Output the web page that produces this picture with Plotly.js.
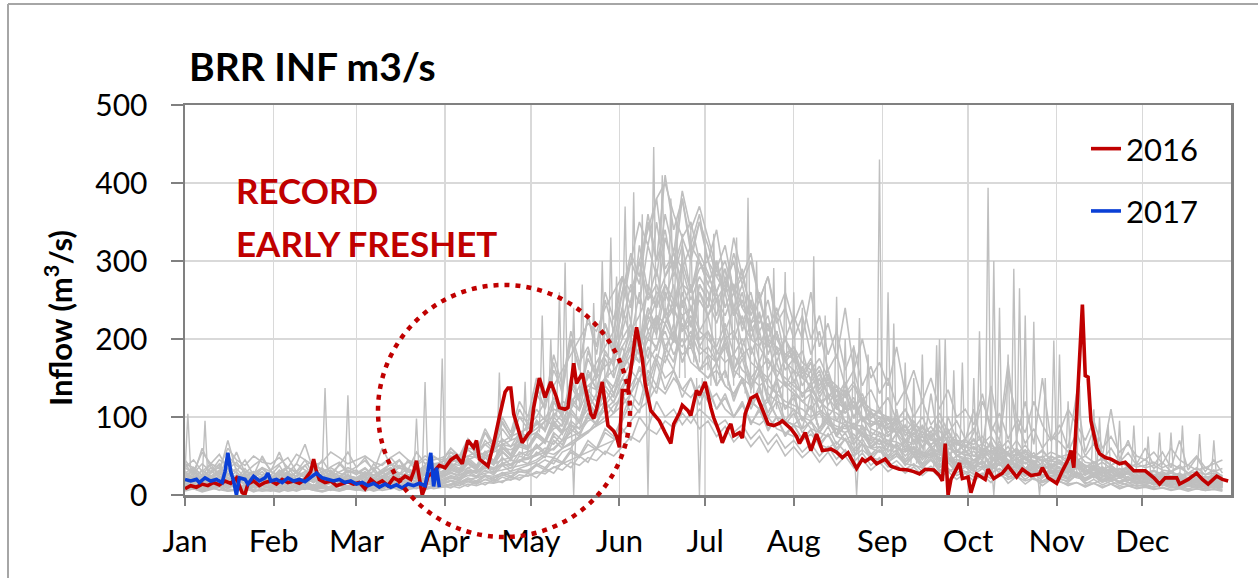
<!DOCTYPE html>
<html>
<head>
<meta charset="utf-8">
<script src="https://cdn.plot.ly/plotly-3.0.1.min.js"></script>
<style>
html,body{margin:0;padding:0;background:#ffffff;}
#chart{width:1258px;height:578px;}
</style>
</head>
<body>
<div id="chart"></div>
<script>
// ---------- DATA ----------
const MONTHS = ['Jan','Feb','Mar','Apr','May','Jun','Jul','Aug','Sep','Oct','Nov','Dec'];
const Y_TICKS = [0, 100, 200, 300, 400, 500];

// 2016 inflow: day of year (0 = Jan 1) and value (m3/s)
const DAYS_2016 = [
  0,2,4,6,8,10,12,14,16,18,
  19,20,21,22,24,26,28,30,32,34,
  36,38,40,42,44,45,46,47,49,51,
  53,55,57,59,61,63,65,67,69,71,
  73,75,77,79,80,81,82,83,84,85,
  87,89,91,93,95,97,99,101,102,103,
  106,108,110,112,113,114,115,117,118,120,
  121,122,124,126,128,130,131,133,134,136,
  137,139,141,142,143,144,146,148,150,151,
  152,153,155,156,158,160,161,163,165,166,
  168,170,171,173,174,176,177,179,180,182,
  184,185,187,188,190,191,192,194,195,196,
  198,200,202,204,206,208,209,211,212,214,
  215,217,219,221,223,225,226,228,230,232,
  235,237,238,240,242,245,247,250,253,255,
  257,259,262,264,265,266,267,268,269,271,
  272,274,275,277,280,281,283,286,288,291,
  293,296,299,300,302,305,307,309,310,311,
  314,315,316,317,319,320,322,324,327,329,
  332,336,339,341,343,347,348,351,354,356,
  358,361,363,365
];
const FLOW_2016 = [
  8,12,10,14,12,16,13,18,15,22,
  12,3,1,14,18,12,16,18,14,20,
  16,18,15,20,30,46,30,20,16,18,
  12,15,17,14,16,8,20,14,18,12,
  22,18,24,20,30,44,20,0,10,24,
  30,38,35,45,50,40,70,61,70,46,
  37,66,100,132,137,137,104,80,67,78,
  82,112,150,125,145,125,112,110,112,169,
  143,156,120,104,98,110,145,89,82,75,
  61,134,134,160,215,175,143,108,100,95,
  80,66,91,105,115,108,102,134,128,145,
  112,99,80,67,85,91,76,80,73,104,
  124,128,110,91,89,92,95,88,85,75,
  66,80,57,78,57,58,59,55,48,54,
  34,46,43,48,40,46,37,33,32,30,
  27,33,32,25,18,66,0,20,27,41,
  21,23,3,27,20,33,21,28,37,23,
  33,25,27,35,22,15,31,45,57,35,
  244,153,151,95,61,53,48,46,40,42,
  31,31,22,14,22,22,14,20,28,20,
  14,24,20,18
];

// 2017 inflow (to date)
const DAYS_2017 = [0,2,4,5,7,9,11,13,14,15,16,17,18,19,21,22,24,26,28,29,30,32,34,36,38,40,42,44,46,48,50,52,54,56,58,60,62,64,66,68,70,72,74,76,78,80,82,84,85,86,87,88,89];
const FLOW_2017 = [20,18,20,16,22,18,20,16,30,54,30,18,0,22,20,14,24,18,22,28,18,20,16,22,18,20,17,22,28,22,20,18,20,16,18,14,16,12,15,10,14,10,13,9,14,12,15,12,30,54,11,35,10];

// historical years (grey), one value every 3 days from Jan 1
const HIST_STEP = 3;
const hist01 = [30,22,18,25,15,12,20,14,10,12, 15,10,12,18,14,10,8,12,15,10, 12,18,14,10,16,20,15,12,18,22, 20,25,22,30,28,35,32,40,45,42, 55,60,70,85,90,110,130,150,170,190,210, 260,300,350,320,380,290,310,270,240,260, 230,250,200,210,180,190,160,150,170,140, 130,120,110,125,100,95,90,85,80,75, 70,65,60,58,55,50,52,48,45,40, 42,38,35,40,55,45,38,35,32,30,28, 30,28,35,32,28,25,22,24,20,18, 20,18,16,18,15,14,16,13,12,14];
const hist02 = [15,10,8,12,10,14,9,7,10,12, 8,10,12,9,7,11,10,8,12,9, 10,8,12,11,9,14,12,10,13,15, 12,14,16,18,15,20,22,25,28,30, 32,38,45,40,55,60,75,80,95,110,120, 140,160,190,220,250,280,310,290,320,300, 270,250,230,260,220,200,190,170,160,150, 140,130,135,120,110,105,95,90,88,80, 75,70,68,62,60,55,50,52,45,42, 40,38,36,35,32,30,34,30,28,26,25, 24,26,22,20,25,22,20,18,20,17, 16,15,18,14,13,15,12,14,13,12];
const hist03 = [40,35,25,30,45,38,28,22,30,25, 20,28,35,30,25,40,32,25,22,30, 28,35,25,22,30,38,32,28,35,30, 35,40,38,45,50,48,55,60,58,65, 75,80,95,100,120,115,140,130,160,180,170, 200,220,190,240,210,230,200,180,190,160, 150,170,140,130,145,120,110,125,100,95, 90,100,85,80,95,75,70,78,65,60, 62,58,55,70,50,48,60,45,42,50, 45,40,60,50,42,38,55,45,40,35,38, 40,35,45,38,32,36,30,34,28,30, 28,32,26,30,25,28,24,22,26,24];
const hist04 = [10,8,6,9,7,5,8,6,7,5, 6,8,5,7,9,6,5,7,6,8, 7,5,9,6,8,10,7,9,11,8, 10,12,9,14,12,16,15,18,20,22, 25,28,30,35,40,45,50,55,60,65,70, 80,95,110,120,140,130,150,135,125,140, 120,130,110,100,115,95,90,100,85,80, 75,70,78,65,60,68,55,50,58,48, 45,42,50,40,38,35,45,32,30,35, 30,28,25,40,28,24,22,30,20,18,22, 20,18,25,16,15,20,14,16,13,12, 12,10,14,11,9,12,10,8,11,9];
const hist05 = [20,15,25,18,12,16,22,14,18,20, 16,22,18,14,20,25,18,15,20,16, 18,22,15,20,25,18,22,30,25,20, 22,28,25,32,30,38,35,40,38,45, 48,52,60,58,70,75,80,95,100,115,130, 150,170,200,230,260,250,290,330,300,350, 320,280,300,260,280,240,220,250,200,180, 190,170,160,175,150,140,130,145,120,110, 105,100,95,110,90,85,80,95,75,70, 68,65,75,60,58,55,70,52,50,48,55, 50,45,55,42,40,48,38,45,35,40, 35,38,32,30,35,28,30,26,28,25];
const hist06 = [25,30,20,35,28,22,18,24,30,26, 30,25,35,28,22,20,26,24,30,35, 30,28,25,32,40,35,30,28,34,38, 40,35,45,50,48,55,60,65,70,75, 90,100,120,140,160,180,200,220,210,240,260, 280,260,300,250,270,230,240,210,220,190, 180,170,190,160,150,140,155,130,120,115, 110,100,95,105,90,85,80,88,75,70, 65,70,60,55,62,50,48,55,45,42, 40,45,38,35,50,42,36,34,30,32,28, 30,35,28,26,32,25,24,28,22,20, 22,20,24,18,20,17,19,16,18,15];
const hist07 = [35,28,40,30,25,50,38,30,28,35, 30,25,28,40,32,25,30,35,28,25, 22,28,25,30,35,28,24,26,30,28, 30,32,28,35,38,42,40,45,48,52, 55,60,70,65,80,90,85,100,110,120,140, 160,180,170,200,190,210,180,200,170,160, 150,160,140,130,150,120,110,120,100,95, 90,85,95,80,75,85,70,65,80,60, 55,60,80,65,50,90,60,55,100,70, 60,80,120,90,70,150,100,80,120,90,70, 80,110,90,70,95,60,75,55,65,50, 45,55,40,60,45,38,50,35,40,45];
const hist08 = [12,15,10,14,18,12,10,13,11,9, 10,12,14,11,9,13,12,10,15,11, 13,11,15,12,14,18,16,13,17,20, 18,22,20,25,24,28,30,32,35,38, 40,45,52,60,70,80,95,110,130,150,180, 210,250,300,340,380,400,360,330,350,300, 280,260,290,240,220,250,200,190,210,170, 160,150,140,155,130,120,110,125,100,95, 90,85,80,88,75,70,65,72,60,55, 52,50,48,55,45,42,40,48,38,36,35, 34,32,38,30,28,34,26,25,28,22, 22,20,24,18,20,17,18,16,19,15];
const hist09 = [8,12,6,10,14,8,6,9,12,7, 5,8,10,6,12,8,5,9,7,10, 8,6,10,12,8,14,10,8,12,16, 14,18,16,20,22,25,24,28,30,34, 38,42,50,48,60,65,72,80,90,100,115, 125,140,160,150,180,170,200,190,210,180, 190,170,200,160,180,150,165,140,130,145, 135,120,130,110,100,115,95,90,100,85, 80,75,85,70,65,75,60,55,65,50, 48,45,52,40,38,45,35,32,40,30,28, 26,30,24,22,28,20,18,22,16,15, 14,16,12,15,11,13,10,12,9,11];
const hist10 = [45,30,55,40,35,60,45,38,50,42, 40,48,35,52,45,38,42,55,48,40, 45,50,42,38,48,55,45,40,50,45, 48,55,50,60,58,65,70,68,75,80, 85,90,100,110,105,120,130,140,135,150,160, 175,190,210,200,230,220,240,210,230,200, 210,190,220,180,200,170,160,175,150,140, 145,130,140,120,125,110,105,115,95,90, 92,85,95,80,78,88,70,72,80,65, 62,70,58,55,65,52,60,48,50,56,45, 48,52,44,50,42,46,38,44,40,36, 38,42,35,40,34,38,32,35,30,34];
const hist11 = [18,22,16,20,24,18,15,20,22,17, 15,18,20,16,22,18,15,19,17,20, 18,16,20,22,18,24,20,18,22,26, 24,28,26,30,32,35,34,38,40,44, 46,50,55,52,60,68,75,82,88,95,105, 115,130,150,170,190,220,250,270,260,290, 300,280,260,270,240,220,230,200,190,180, 175,160,150,165,140,135,125,140,115,105, 100,95,90,98,85,80,75,82,70,65, 62,60,58,65,55,52,50,58,48,45,44, 42,40,46,38,36,42,34,32,36,30, 28,30,26,28,24,26,22,24,21,23];
const hist12 = [28,35,25,22,30,26,20,25,28,22, 25,20,28,24,30,26,22,28,25,20, 22,26,30,25,28,35,30,26,32,36, 38,42,45,50,55,52,60,65,62,70, 78,85,95,90,105,115,125,140,150,165,175, 190,210,230,260,240,270,250,230,240,210, 200,185,170,180,160,150,140,150,130,120, 115,110,100,108,95,88,85,92,78,72, 70,65,62,68,58,55,52,58,48,45, 44,42,40,48,38,36,35,42,32,30,30, 32,30,36,28,26,32,25,24,28,22, 22,24,20,22,18,20,17,19,16,18];
const hist13 = [22,35,18,28,40,20,15,30,25,18, 20,32,16,25,38,22,18,28,20,24, 18,26,35,20,30,45,25,32,28,40, 35,55,42,70,50,80,60,95,75,110, 90,140,110,170,130,200,160,230,180,250,210, 280,220,320,260,350,280,300,240,270,210, 230,180,210,160,190,140,170,120,150,110, 130,95,115,85,100,75,90,65,80,60, 70,50,65,45,60,40,55,38,50,35, 45,32,60,30,50,28,42,25,38,22,35, 30,20,45,25,35,18,30,22,28,16, 25,15,22,18,28,14,20,12,18,15];
const hist14 = [12,8,15,10,6,14,9,11,7,13, 9,12,7,10,14,8,11,6,12,9, 10,14,8,12,16,10,13,9,15,12, 14,18,12,20,16,24,18,26,22,30, 28,38,32,45,40,55,48,65,58,80,72, 95,120,105,150,130,180,160,220,190,260, 240,300,260,330,280,310,250,280,220,240, 200,230,180,210,160,180,140,160,120,135, 110,125,95,110,85,100,75,88,65,78, 60,72,55,66,50,62,45,56,42,50,38, 45,35,42,30,38,28,34,25,30,22, 26,20,24,18,22,16,20,15,18,14];
const hist15 = [30,18,25,40,22,30,55,28,20,35, 25,38,20,30,45,25,35,22,40,28, 32,22,40,28,35,25,45,30,38,50, 42,60,48,70,55,85,65,100,80,120, 100,150,120,180,140,210,170,190,150,220,180, 240,200,260,210,230,180,220,170,200,160, 180,140,160,120,150,110,135,100,120,90, 105,80,95,70,88,65,80,58,72,52, 62,48,58,42,55,38,50,35,48,32, 42,30,55,35,48,28,40,26,36,24,32, 28,40,24,35,22,30,20,28,18,25, 22,18,26,16,20,14,22,15,18,13];
const hist16 = [5,8,4,7,10,5,6,9,4,7, 6,4,8,5,9,6,4,7,5,8, 6,9,5,8,11,6,9,12,7,10, 12,9,15,11,18,13,20,16,24,19, 28,22,34,28,42,35,50,42,60,52,70, 85,70,100,85,120,100,110,90,105,85, 95,75,88,68,80,62,75,55,70,50, 62,48,58,42,55,38,50,35,46,32, 42,30,38,28,36,25,34,22,30,20, 28,18,26,16,30,15,24,14,22,12,20, 18,12,16,10,15,9,14,8,12,8, 10,7,9,6,8,5,8,6,7,5];
const hist17 = [18,25,14,20,28,16,22,12,18,24, 15,20,26,14,18,24,12,20,16,22, 14,20,16,24,18,28,22,16,26,20, 24,30,22,35,28,42,32,48,38,55, 50,65,55,80,70,95,85,120,100,140,125, 170,220,190,270,240,330,290,380,320,360, 300,340,270,300,240,260,210,230,180,200, 170,185,145,160,125,140,110,120,95,105, 90,100,78,88,68,76,60,68,52,58, 50,56,44,70,40,52,36,48,34,42,30, 36,28,45,26,38,24,32,22,28,20, 24,18,22,16,20,14,18,13,16,12];
const hist18 = [40,25,60,35,28,70,30,45,25,50, 30,55,28,40,65,30,45,28,38,55, 35,48,30,60,38,45,32,55,40,48, 45,60,50,72,58,80,66,92,75,100, 85,110,95,125,105,140,120,160,135,175,150, 190,160,210,175,230,190,210,170,200,160, 170,140,160,125,150,115,140,105,130,95, 110,85,130,80,100,75,120,70,90,65, 80,60,110,55,90,50,130,60,85,55, 70,110,60,140,80,170,75,120,65,150,70, 90,60,130,55,85,50,110,45,70,40, 60,38,55,35,70,32,48,30,45,28];
const hist19 = [10,16,8,12,20,9,14,7,11,15, 8,12,16,9,13,7,11,15,8,12, 10,14,9,16,12,18,11,15,20,13, 16,22,18,28,22,32,26,38,30,45, 40,55,48,70,60,85,75,100,90,120,105, 135,160,145,190,170,220,195,250,215,270, 250,220,260,200,230,180,210,160,190,140, 160,125,145,110,130,95,115,85,100,75, 88,65,78,58,70,50,64,45,56,40, 48,36,44,32,40,30,38,28,34,25,30, 26,22,30,20,25,18,22,16,20,14, 18,13,16,12,15,11,14,10,12,10];
const hist20 = [28,20,32,24,18,26,34,22,16,24, 20,26,18,30,22,16,28,20,24,18, 22,18,26,30,20,28,24,34,26,30, 30,38,32,45,36,52,44,60,50,68, 62,80,70,95,82,110,95,130,110,150,130, 160,190,170,210,185,240,200,260,220,250, 230,260,210,240,190,220,170,200,150,175, 145,165,130,150,115,135,105,120,95,108, 86,98,78,90,70,82,64,75,58,68, 55,62,50,58,46,54,42,50,40,46,36, 42,34,40,30,36,28,34,26,30,24, 28,22,26,20,24,18,22,16,20,15];
const hist21 = [14,20,12,18,24,13,17,21,12,16, 12,16,20,13,17,11,15,19,12,16, 14,18,13,20,16,22,17,25,19,28, 24,32,28,40,34,48,40,55,46,62, 58,75,66,90,78,105,92,120,105,135,118, 150,130,165,140,175,150,160,135,150,125, 135,110,125,100,118,92,108,85,100,78, 90,72,84,66,78,60,72,55,66,50, 58,46,54,42,50,38,46,35,42,32, 38,30,36,28,34,26,32,24,30,22,28, 24,20,28,18,24,16,22,15,20,14, 18,13,16,12,15,11,14,10,13,10];
const hist22 = [35,45,30,40,52,33,42,28,38,46, 32,40,48,30,38,44,28,36,42,30, 36,44,32,40,48,35,42,38,46,40, 42,50,45,58,50,65,56,72,62,80, 75,92,82,105,95,118,108,135,120,150,138, 175,210,190,240,215,270,240,300,260,310, 285,250,270,230,250,210,230,190,210,170, 185,150,170,135,155,120,140,110,125,100, 110,90,102,82,95,76,88,70,82,64, 72,58,66,54,62,50,58,46,54,42,50, 44,38,46,34,42,32,38,30,35,28, 32,26,30,24,28,22,26,20,24,19];
const hist23 = [6,9,5,8,11,6,7,10,5,8, 7,5,9,6,10,7,5,8,6,9, 7,10,6,9,12,8,10,14,9,12, 10,14,12,17,14,20,16,23,19,26, 24,30,27,36,32,42,38,48,44,56,50, 62,75,68,85,78,95,86,105,92,110, 100,88,96,80,90,72,84,65,78,60, 70,55,66,50,62,46,58,42,54,38, 48,36,44,33,40,30,37,28,34,25, 30,23,28,21,26,20,24,18,22,16,20, 17,14,16,12,15,11,14,10,12,9, 11,8,10,7,9,7,8,6,8,6];
const hist24 = [20,14,26,18,12,22,16,28,14,20, 16,22,14,24,18,12,20,26,15,19, 18,24,16,22,28,18,26,20,30,24, 26,34,28,40,32,48,38,56,44,66, 60,80,70,100,88,125,110,155,135,185,165, 220,270,245,320,280,360,310,390,340,370, 330,290,320,260,290,230,260,200,230,175, 190,155,175,140,160,125,145,110,130,98, 108,86,98,76,90,68,82,62,75,56, 64,50,60,46,70,42,54,40,50,36,44, 40,32,48,30,38,28,35,25,32,22, 28,20,25,18,23,16,21,15,19,14];
const hist25 = [16,24,12,20,30,14,18,26,12,20, 14,20,28,12,18,24,14,22,16,26, 18,26,14,22,30,18,24,16,28,22, 26,36,30,44,36,52,42,62,50,74, 70,95,82,120,100,150,125,185,150,220,190, 260,310,280,360,300,340,280,320,260,300, 270,300,240,270,210,250,190,220,170,200, 180,150,170,130,150,115,135,100,120,90, 100,80,92,70,85,62,78,56,70,50, 58,44,54,40,60,36,48,34,44,30,40, 36,28,42,26,34,24,30,22,28,20, 24,18,22,16,20,15,18,14,17,13];
const hist26 = [10,14,8,12,16,9,13,8,11,15, 9,13,8,12,15,9,12,8,14,10, 11,15,9,13,17,10,14,12,16,14, 15,19,16,22,18,26,21,29,24,33, 30,40,35,48,42,58,50,70,60,85,75, 100,130,115,160,140,190,170,230,200,270, 250,290,260,310,270,300,250,280,230,260, 220,250,200,230,180,210,160,190,140,165, 130,150,115,135,100,120,90,105,80,95, 72,85,65,76,58,70,52,64,48,58,44, 50,40,46,36,42,32,38,28,34,26, 30,24,28,22,26,20,24,18,22,17];
const hist27 = [24,32,20,28,36,22,30,18,26,34, 22,30,36,20,28,34,20,30,24,32, 26,34,22,30,40,26,34,28,38,32, 36,48,40,58,48,70,58,85,70,100, 95,130,110,160,135,195,165,230,190,260,225, 280,240,300,250,290,230,270,210,240,190, 210,170,195,150,175,135,160,120,145,110, 125,95,115,85,105,78,95,70,86,62, 72,55,66,50,62,45,58,42,54,38, 46,34,42,30,55,28,40,26,36,24,32, 30,22,36,20,28,18,26,16,24,15, 20,14,18,13,17,12,16,11,15,11];
const hist28 = [20,28,16,24,32,18,26,14,22,30, 18,24,30,16,22,28,16,24,20,26, 20,28,18,24,32,20,26,22,30,26, 28,36,30,42,34,48,40,56,46,64, 60,78,68,92,80,110,95,130,110,150,130, 165,200,180,230,205,260,230,290,250,280, 260,230,280,240,270,220,250,210,240,200, 230,200,260,190,220,175,240,160,200,150, 170,140,190,130,160,120,150,110,135,100, 110,90,130,80,105,72,95,66,85,60,75, 68,55,80,50,66,45,60,42,54,38, 46,34,42,30,38,28,35,26,32,24];
const hist29 = [12,20,9,16,24,10,18,8,14,22, 10,16,22,9,14,20,10,16,12,18, 12,18,10,16,22,12,18,14,20,16, 18,24,20,30,24,36,28,42,34,50, 46,62,52,76,64,90,78,105,90,120,105, 130,105,150,120,170,135,160,125,150,115, 140,110,130,100,120,90,112,82,100,75, 90,70,84,62,78,56,72,50,66,45, 58,42,54,38,50,34,46,30,42,28, 36,26,34,24,42,22,30,20,28,18,24, 22,16,26,14,20,13,18,12,16,11, 14,10,13,9,12,8,11,8,10,7];
const hist30 = [26,18,32,22,16,28,20,34,18,24, 20,28,18,30,22,16,26,32,18,24, 22,30,20,28,34,22,30,24,36,28, 30,40,34,48,38,56,44,66,52,78, 72,96,84,120,100,145,125,175,150,210,180, 240,300,270,350,300,410,340,380,310,350, 300,260,290,230,260,200,235,180,210,160, 175,140,160,125,145,110,130,98,118,88, 96,76,88,68,80,60,74,55,68,50, 56,44,52,40,62,36,48,34,44,32,38, 34,28,40,26,32,24,30,22,28,20, 24,18,22,16,20,15,19,14,17,13];
const HIST_SERIES = [hist01,hist02,hist03,hist04,hist05,hist06,hist07,hist08,hist09,hist10,
                     hist11,hist12,hist13,hist14,hist15,hist16,hist17,hist18,hist19,hist20,
                     hist21,hist22,hist23,hist24,hist25,hist26,hist27,hist28,hist29,hist30];

// short-lived peaks of historical years: day, peak, surrounding level
const SPIKE_DAYS  = [1,7,49,57,81,84,90,110,119,125,128,131,133,136,139,143,146,149,151,154,157,160,164,167,170,172,174,177,179,182,185,188,191,193,197,200,203,206,210,213,216,220,224,228,231,234,236,239,243,246,248,252,255,258,263,264,266,269,272,276,278,281,283,285,288,290,292,294,297,301,304,306,309,313,318,320,323,327,332,337,341,345,349,355,360];
const SPIKE_PEAKS = [104,95,137,128,98,145,175,157,145,230,200,260,298,240,270,246,300,330,280,370,388,360,446,410,380,350,335,340,300,320,335,300,280,330,381,300,270,291,286,260,240,306,230,254,200,192,227,180,430,260,220,170,150,180,192,200,200,160,170,150,210,394,300,240,180,290,265,230,222,150,198,180,120,140,110,100,90,95,89,75,80,80,89,78,70];
const SPIKE_BASES = [30,20,30,25,20,25,30,40,50,80,90,100,90,110,110,120,140,150,160,200,180,170,200,240,220,200,150,180,170,160,140,150,140,150,130,130,120,110,100,100,100,90,90,80,80,60,55,70,60,60,50,45,40,45,35,35,40,40,35,30,35,40,35,40,35,35,35,30,30,30,30,30,28,30,25,25,25,25,25,20,22,20,20,20,18];
// missing-data drops to zero
const DIP_DAYS  = [136,162,180,235,283,299];
const DIP_BASES = [110,200,150,70,50,40];

// ---------- BUILD ----------
const DAY_MS = 86400000;
const BASE = Date.UTC(2016,0,1);
function dayToDate(d){ return new Date(BASE + d*DAY_MS).toISOString().slice(0,19).replace('T',' '); }

const traces = [];
const GREY = '#bfbfbf';
HIST_SERIES.forEach(function(vals){
  traces.push({
    type:'scatter', mode:'lines',
    x: vals.map(function(v,i){ return dayToDate(i*HIST_STEP); }),
    y: vals,
    line:{color:GREY, width:1.6},
    showlegend:false, hoverinfo:'skip'
  });
});
(function(){
  const sx=[], sy=[];
  SPIKE_DAYS.forEach(function(d,i){
    sx.push(dayToDate(d-1), dayToDate(d), dayToDate(d+1), null);
    sy.push(SPIKE_BASES[i], SPIKE_PEAKS[i], SPIKE_BASES[i], null);
  });
  DIP_DAYS.forEach(function(d,i){
    sx.push(dayToDate(d-1), dayToDate(d), dayToDate(d+1), null);
    sy.push(DIP_BASES[i], 0, DIP_BASES[i], null);
  });
  traces.push({type:'scatter', mode:'lines', x:sx, y:sy, connectgaps:false,
    line:{color:GREY, width:1.4}, showlegend:false, hoverinfo:'skip'});
})();
traces.push({
  type:'scatter', mode:'lines', name:'2016', legendgroup:'a',
  x: DAYS_2016.map(dayToDate), y: FLOW_2016,
  line:{color:'#c00000', width:3.6}
});
traces.push({
  type:'scatter', mode:'lines', name:'2017', legendgroup:'b',
  x: DAYS_2017.map(dayToDate), y: FLOW_2017,
  line:{color:'#0a3fd6', width:3.6}
});

const monthStarts = [];
for (let m=0; m<12; m++) monthStarts.push(new Date(Date.UTC(2016,m,1)).toISOString().slice(0,10));

// pixel helpers for paper coords
const L=185, R=1231, T=105, B=495;
const px = function(x){ return (x-L)/(R-L); };
const py = function(y){ return (B-y)/(B-T); };

const FONT = 'Lato, Carlito, "Open Sans", sans-serif';
const layout = {
  width:1258, height:578,
  margin:{l:L, r:1258-R, t:T, b:578-B, pad:0},
  paper_bgcolor:'#ffffff', plot_bgcolor:'#ffffff',
  font:{family:FONT, size:30, color:'#000000'},
  title:{text:'<b>BRR INF m3/s</b>', xref:'container', yref:'container',
         x:189/1258, xanchor:'left', y:1-67/578, yanchor:'middle',
         font:{family:FONT, size:39, color:'#000000'}},
  showlegend:true,
  legend:{x:px(1086), y:py(122), xanchor:'left', yanchor:'top',
          bgcolor:'rgba(0,0,0,0)', borderwidth:0,
          font:{family:FONT, size:31, color:'#000000'},
          traceorder:'grouped', tracegroupgap:19},
  xaxis:{type:'date', range:[dayToDate(0), dayToDate(366)],
         tickmode:'array', tickvals:monthStarts, ticktext:MONTHS,
         ticks:'outside', ticklen:8, tickwidth:2, tickcolor:'#808080',
         ticklabelstandoff:9,
         showgrid:true, gridcolor:'#d9d9d9', gridwidth:1.5,
         showline:true, linecolor:'#808080', linewidth:2.5, mirror:true,
         zeroline:false, tickfont:{family:FONT, size:31, color:'#000000'}},
  yaxis:{range:[0,500], tickmode:'array', tickvals:Y_TICKS,
         ticks:'outside', ticklen:12, tickwidth:2, tickcolor:'#808080',
         ticklabelstandoff:17,
         showgrid:true, gridcolor:'#d9d9d9', gridwidth:1.5,
         showline:true, linecolor:'#808080', linewidth:2.5, mirror:true,
         zeroline:false, tickfont:{family:FONT, size:30, color:'#000000'}},
  shapes:[
    {type:'circle', xref:'paper', yref:'paper', layer:'above',
     x0:px(378), x1:px(630), y0:py(537), y1:py(285),
     line:{color:'#c00000', width:4.5, dash:'5px,6px'}},
    {type:'line', xref:'paper', yref:'paper', x0:px(8), x1:px(8), y0:py(4), y1:py(578),
     line:{color:'#a6a6a6', width:2}},
    {type:'line', xref:'paper', yref:'paper', x0:px(8), x1:px(1258), y0:py(4), y1:py(4),
     line:{color:'#a6a6a6', width:2}}
  ],
  annotations:[
    {text:'<b>Inflow (m<sup>3</sup>/s)</b>', xref:'paper', yref:'paper',
     x:px(58), y:py(318), xanchor:'center', yanchor:'middle', textangle:-90,
     showarrow:false, font:{family:FONT, size:31, color:'#000000'}},
    {text:'<b>RECORD</b>', xref:'paper', yref:'paper', x:px(234), y:py(190),
     xanchor:'left', yanchor:'middle', showarrow:false,
     font:{family:FONT, size:35, color:'#c00000'}},
    {text:'<b>EARLY FRESHET</b>', xref:'paper', yref:'paper', x:px(234), y:py(243),
     xanchor:'left', yanchor:'middle', showarrow:false,
     font:{family:FONT, size:35, color:'#c00000'}}
  ]
};

Plotly.newPlot('chart', traces, layout, {displayModeBar:false, staticPlot:true});
</script>
</body>
</html>
